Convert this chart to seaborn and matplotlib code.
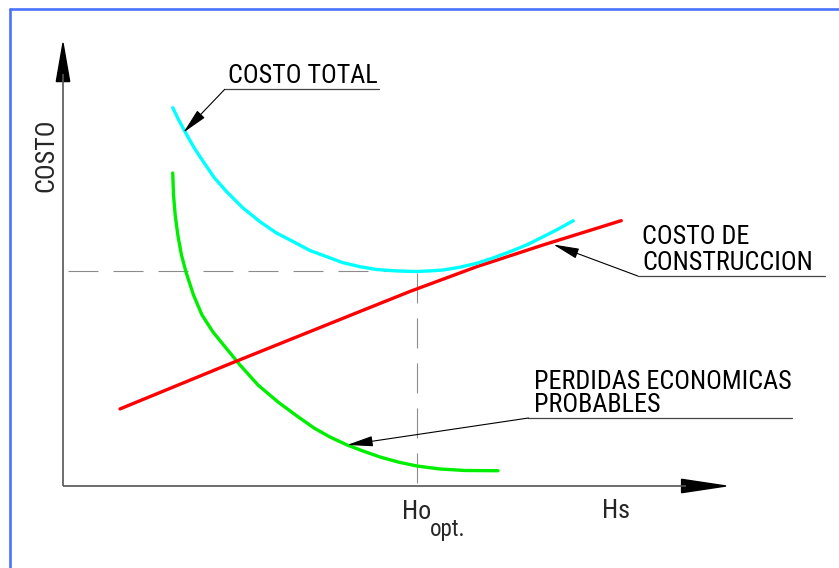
import matplotlib
matplotlib.use("Agg")
import matplotlib.pyplot as plt
from matplotlib.lines import Line2D
from matplotlib.patches import Polygon
from matplotlib import font_manager
import seaborn as sns

# Curvas de costo en funcion de Hs (unidades relativas, ejes de 0 a 10)
hs_total = [1.655, 1.742, 1.840, 1.976, 2.116, 2.285, 2.469, 2.715, 2.971,
            3.220, 3.474, 3.725, 3.977, 4.223, 4.480, 4.729, 4.982, 5.173,
            5.335, 5.535, 5.736, 5.988, 6.240, 6.486, 6.742, 6.998, 7.244,
            7.466, 7.697]
costo_total = [8.540, 8.273, 7.998, 7.641, 7.321, 6.953, 6.643, 6.275, 5.966,
               5.711, 5.515, 5.316, 5.176, 5.041, 4.950, 4.887, 4.860, 4.847,
               4.842, 4.856, 4.876, 4.939, 5.027, 5.147, 5.289, 5.445, 5.628,
               5.797, 5.989]

hs_construccion = [0.86, 2.47, 4.48, 5.23, 6.24, 7.24, 8.42]
costo_construccion = [1.74, 2.73, 3.94, 4.39, 4.95, 5.44, 5.99]

hs_perdidas = [1.655, 1.667, 1.692, 1.732, 1.787, 1.855, 1.968, 2.097, 2.262,
               2.459, 2.670, 2.941, 3.243, 3.529, 3.786, 4.027, 4.284, 4.525,
               4.781, 5.053, 5.339, 5.686, 6.063, 6.561]
costo_perdidas = [7.065, 6.569, 6.117, 5.666, 5.214, 4.831, 4.312, 3.860,
                  3.476, 3.115, 2.731, 2.280, 1.896, 1.580, 1.309, 1.106,
                  0.926, 0.790, 0.655, 0.542, 0.451, 0.384, 0.350, 0.345]

ho_opt = 5.335
costo_opt = 4.842

sns.set_style("white")
installed = {f.name for f in font_manager.fontManager.ttflist}
family = [f for f in ["Liberation Sans Narrow", "Roboto Condensed", "Roboto",
                      "Liberation Sans", "DejaVu Sans"] if f in installed]
plt.rcParams["font.family"] = family
plt.rcParams["lines.scale_dashes"] = False
FS = 18.8

W, H = 839, 568
fig = plt.figure(figsize=(W / 100, H / 100), dpi=100)
fig.patch.set_facecolor("white")

# marco azul del dibujo
border = "#4a72ff"
fig.add_artist(Line2D([10 / W, 10 / W], [0, 1 - 9 / H], color=border, lw=1.9))
fig.add_artist(Line2D([10 / W, 1], [1 - 9 / H, 1 - 9 / H], color=border, lw=1.9))

ax = fig.add_axes([63 / W, 82 / H, 663 / W, 443 / H])
ax.set_xlim(0, 10)
ax.set_ylim(0, 10)
ax.axis("off")

# ejes con flecha
axis_col = "#555555"
ax.plot([0, 0], [0, 9.3], color=axis_col, lw=1.2, clip_on=False,
        solid_capstyle="butt")
ax.plot([0, 9.4], [0, 0], color=axis_col, lw=1.2, clip_on=False,
        solid_capstyle="butt")
ax.add_patch(Polygon([(-0.101, 9.13), (0.101, 9.13), (0, 10)], closed=True,
                     color="black", clip_on=False))
ax.add_patch(Polygon([(9.33, -0.151), (9.33, 0.151), (10, 0)], closed=True,
                     color="black", clip_on=False))

# lineas de referencia del optimo
dash_col = "#8c8c8c"
ax.plot([0, ho_opt], [costo_opt, costo_opt], color=dash_col, lw=0.8,
        linestyle=(28.8, (21.6, 10.8)), clip_on=False)
ax.plot([ho_opt, ho_opt], [costo_opt, 0], color=dash_col, lw=0.8,
        linestyle=(31.0, (21.6, 10.8)), clip_on=False)

# curvas
sns.lineplot(x=hs_perdidas, y=costo_perdidas, sort=False, estimator=None,
             color="#00ee00", lw=2.4, ax=ax)
sns.lineplot(x=hs_construccion, y=costo_construccion, sort=False,
             estimator=None, color="#ff0000", lw=2.4, ax=ax)
sns.lineplot(x=hs_total, y=costo_total, sort=False, estimator=None,
             color="#00ffff", lw=2.4, ax=ax)
for ln in ax.lines[-3:]:
    ln.set_solid_joinstyle("round")
    ln.set_clip_on(False)

# rotulos con linea de referencia
txt = dict(fontsize=FS, color="black", va="baseline", ha="left")
under_col = "#444444"
arrow = dict(arrowstyle="-|>,head_length=1.6,head_width=0.32",
             mutation_scale=10, lw=0.8, color="black", shrinkA=0, shrinkB=0)


def rotulo(lines, x_text, y_lines, x0, x1, y_under, tip):
    for s, y in zip(lines, y_lines):
        ax.text(x_text, y, s, clip_on=False, **txt)
    ax.plot([x0, x1], [y_under, y_under], color=under_col, lw=0.9,
            clip_on=False)
    ax.annotate("", xy=tip, xytext=(x0, y_under), arrowprops=arrow,
                annotation_clip=False)


rotulo(["COSTO TOTAL"], 2.49, [9.09], 2.44, 4.77, 8.955, (1.814, 7.975))
rotulo(["COSTO DE", "CONSTRUCCION"], 8.74, [5.463, 4.876], 8.67, 11.5,
       4.74, (7.395, 5.451))
rotulo(["PERDIDAS ECONOMICAS", "PROBABLES"], 7.10, [2.185, 1.666], 7.02,
       10.99, 1.535, (4.284, 0.926))

# titulos de los ejes
ax.text(-0.256, 7.47, "COSTO", fontsize=FS, rotation=90, ha="center",
        va="center", clip_on=False)
ax.text(5.11, -0.74, "Ho", fontsize=FS, ha="left", va="baseline",
        clip_on=False)
ax.text(5.53, -1.12, "opt.", fontsize=FS - 2.3, ha="left", va="baseline",
        clip_on=False)
ax.text(8.13, -0.72, "Hs", fontsize=FS, ha="left", va="baseline",
        clip_on=False)

fig.savefig("out.png", dpi=100, facecolor="white")
